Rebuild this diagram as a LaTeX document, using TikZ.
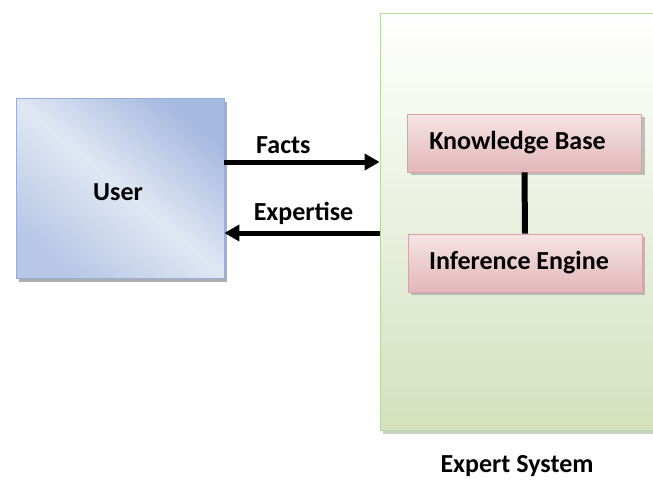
\documentclass[tikz,border=0pt]{standalone}
\usepackage{fontspec}
\setmainfont{Carlito}
\usetikzlibrary{shadows,arrows.meta}
\definecolor{userlight}{HTML}{DFE7F3}
\definecolor{userdark}{HTML}{A6B9DF}
\definecolor{userline}{HTML}{95AEDB}
\definecolor{esgreen}{HTML}{D3E1BD}
\definecolor{esline}{HTML}{B8D7A0}
\definecolor{kbtop}{HTML}{F6E4E4}
\definecolor{kbbottom}{HTML}{E2B7BA}
\definecolor{kbline}{HTML}{D7A2A8}
\tikzset{
  lbl/.style={font=\bfseries\fontsize{26}{30}\selectfont, text=black},
  userbox/.style={draw=userline, line width=0.8pt, minimum width=208pt, minimum height=180pt,
    top color=userdark, bottom color=userdark!70!userlight, middle color=userlight, shading angle=-40,
    drop shadow={shadow xshift=3pt, shadow yshift=-4pt, fill=black!45, opacity=0.7}},
  esbox/.style={draw=esline, line width=0.8pt, top color=white, bottom color=esgreen,
    drop shadow={shadow xshift=3pt, shadow yshift=-4pt, fill=esline!60!black!60, opacity=0.6}},
  kbbox/.style={draw=kbline, line width=0.8pt, minimum width=234pt, minimum height=58pt,
    top color=kbtop, bottom color=kbbottom,
    drop shadow={shadow xshift=3pt, shadow yshift=-3pt, fill=black!40, opacity=0.6}},
  flow/.style={line width=5pt, -{Triangle[length=15pt,width=16pt]}},
  link/.style={line width=6pt}
}
\begin{document}
\begin{tikzpicture}[x=1pt,y=-1pt]
\useasboundingbox (0,0) rectangle (653,482);
\clip (0,0) rectangle (653,482);
\fill[white] (0,0) rectangle (653,482);
% the expert system frame, running past the right edge
\node[esbox, minimum width=290pt, minimum height=417pt] (es) at (525,221.5) {};
\node[userbox] (user) at (120,188) {};
\node[lbl] at (118,192) {User};
\node[kbbox] (kb) at (524.5,143) {};
\node[lbl] at ([xshift=-7pt]kb.center) {Knowledge Base};
\node[kbbox] (ie) at (525,263) {};
\node[lbl] at ([xshift=-6pt]ie.center) {Inference Engine};
\draw[link] (kb.south) -- (ie.north);
\draw[flow] (user.east |- 0,162) -- (es.west |- 0,162) node[lbl, pos=0.38, above=2pt] {Facts};
\draw[flow] (es.west |- 0,233) -- (user.east |- 0,233) node[lbl, pos=0.49, above=3pt] {Expertise};
\node[lbl] (cap) at (517,466) {Expert System};
\end{tikzpicture}
\end{document}
